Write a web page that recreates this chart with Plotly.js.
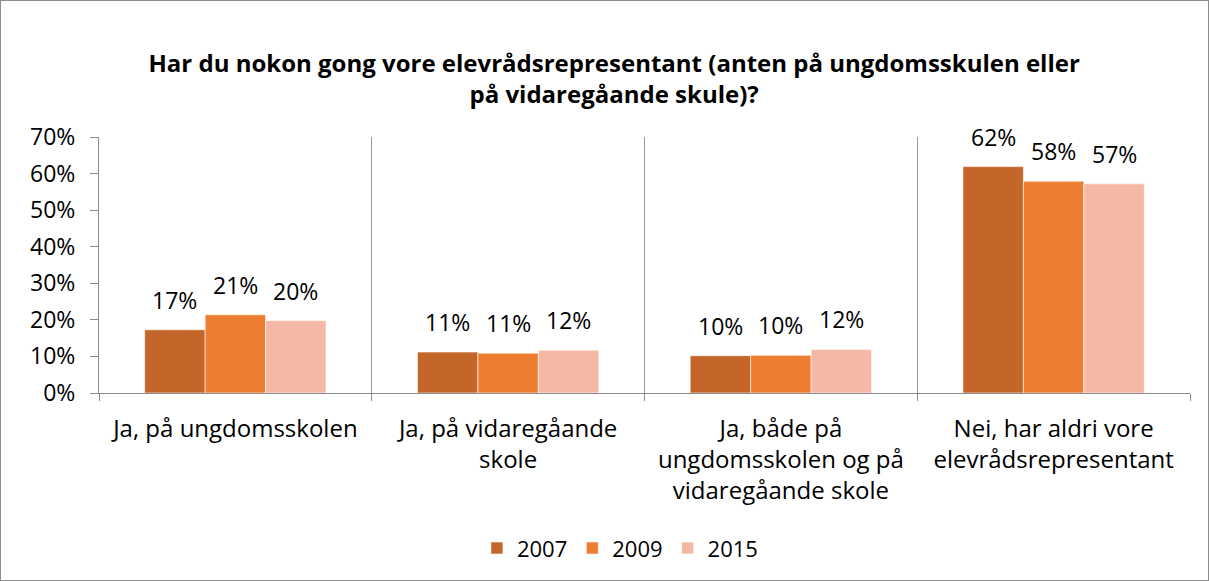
<!DOCTYPE html>
<html>
<head>
<meta charset="utf-8">
<script src="https://cdn.plot.ly/plotly-3.0.1.min.js"></script>
<style>
html,body{margin:0;padding:0;background:#fff;}
#chart{width:1207px;height:579px;border:1px solid #8c8c8c;}
</style>
</head>
<body>
<div id="chart"></div>
<script>
const categories = [
  "Ja, på ungdomsskolen",
  "Ja, på vidaregåande<br>skole",
  "Ja, både på<br>ungdomsskolen og på<br>vidaregåande skole",
  "Nei, har aldri vore<br>elevrådsrepresentant"
];
const seriesNames = ["2007", "2009", "2015"];
const v2007 = [17.3, 11.2, 10.2, 61.9];
const v2009 = [21.4, 10.9, 10.3, 57.9];
const v2015 = [19.8, 11.7, 11.9, 57.2];
const yTicks = [0, 10, 20, 30, 40, 50, 60, 70];
const colors = ["#C4652A", "#ED7D31", "#F4B8A5"];

const FONT = "'Open Sans', sans-serif";
const values = [v2007, v2009, v2015];
const bargap = 0.335;
const barW = (1 - bargap) / 3;

const traces = values.map((vals, k) => ({
  type: "bar",
  name: seriesNames[k],
  x: categories,
  y: vals,
  marker: {color: colors[k], line: {color: "rgba(255,255,255,0.6)", width: 1}},
  hoverinfo: "none"
}));

const annotations = [];
values.forEach((vals, k) => {
  vals.forEach((v, i) => {
    annotations.push({
      x: i + (k - 1) * barW,
      y: v,
      xref: "x", yref: "y",
      text: Math.round(v) + "%",
      showarrow: false,
      yanchor: "bottom",
      yshift: 12,
      font: {family: FONT, size: 23, color: "#000"}
    });
  });
});

const layout = {
  width: 1207, height: 579,
  margin: {l: 98, r: 18, t: 136, b: 186},
  paper_bgcolor: "#fff", plot_bgcolor: "#fff",
  title: {
    text: "<b>Har du nokon gong vore elevrådsrepresentant (anten på ungdomsskulen eller<br>på vidaregåande skule)?</b>",
    font: {family: FONT, size: 24, color: "#000"},
    x: 0.508, xref: "container", xanchor: "center",
    y: 0.878, yref: "container", yanchor: "middle"
  },
  barmode: "group",
  bargap: bargap,
  bargroupgap: 0,
  showlegend: true,
  legend: {
    orientation: "h", x: 0.4775, xanchor: "center", y: -0.6, yanchor: "middle",
    font: {family: FONT, size: 22, color: "#000"},
    itemwidth: 30, traceorder: "normal"
  },
  xaxis: {
    type: "category",
    tickson: "boundaries",
    showgrid: true, gridcolor: "#9a9a9a", gridwidth: 1,
    showline: true, linecolor: "#8c8c8c", linewidth: 1,
    ticks: "outside", ticklen: 7, tickcolor: "#8c8c8c",
    ticklabelstandoff: 14,
    tickfont: {family: FONT, size: 24, color: "#000"},
    fixedrange: true
  },
  yaxis: {
    range: [0, 70],
    tickvals: yTicks,
    ticktext: yTicks.map(t => t + "%"),
    showgrid: false, zeroline: false,
    showline: true, linecolor: "#8c8c8c", linewidth: 1,
    ticks: "outside", ticklen: 8, tickcolor: "#8c8c8c",
    ticklabelstandoff: 10,
    tickfont: {family: FONT, size: 23, color: "#000"},
    fixedrange: true
  },
  annotations: annotations
};

Plotly.newPlot("chart", traces, layout, {displayModeBar: false, staticPlot: true});
</script>
</body>
</html>
